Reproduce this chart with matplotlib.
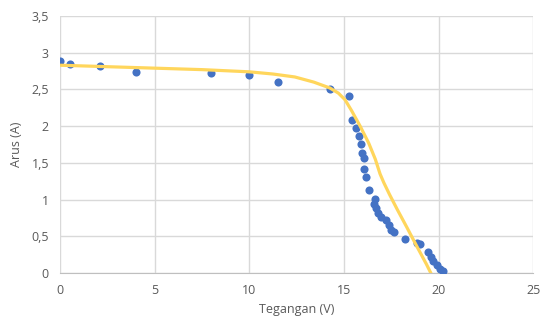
import matplotlib.pyplot as plt
from matplotlib.ticker import FuncFormatter, MultipleLocator

# Data pengukuran (Tegangan V, Arus A)
tegangan = [0.0, 0.5, 2.1, 4.0, 7.96, 10.0, 11.5, 14.25, 15.25, 15.4, 15.65,
            15.8, 15.9, 15.95, 16.05, 16.05, 16.15, 16.3, 16.65, 16.6, 16.7,
            16.8, 16.95, 17.2, 17.35, 17.5, 17.65, 18.2, 18.85, 19.0, 19.45,
            19.6, 19.7, 19.9, 20.05, 20.25]
arus = [2.89, 2.84, 2.82, 2.74, 2.72, 2.70, 2.60, 2.51, 2.41, 2.09, 1.98,
        1.86, 1.76, 1.64, 1.56, 1.42, 1.31, 1.13, 1.01, 0.94, 0.88,
        0.82, 0.77, 0.72, 0.65, 0.59, 0.56, 0.46, 0.41, 0.39, 0.28,
        0.22, 0.17, 0.11, 0.06, 0.03]

# Kurva model (garis kuning)
v_model = [0.0, 2.5, 5.0, 7.5, 10.0, 11.25, 12.4, 13.4, 14.25, 14.7, 15.05,
           15.4, 15.85, 16.3, 16.65, 16.9, 17.1, 17.4, 17.8, 18.3, 18.85,
           19.35, 19.6]
i_model = [2.83, 2.81, 2.79, 2.77, 2.74, 2.71, 2.67, 2.60, 2.52, 2.45, 2.36,
           2.21, 2.00, 1.77, 1.55, 1.35, 1.23, 1.07, 0.87, 0.63, 0.36,
           0.12, -0.01]

fig = plt.figure(figsize=(5.41, 3.27), dpi=100, facecolor='white')
ax = fig.add_axes([0.111, 0.165, 0.875, 0.786])

ax.scatter(tegangan, arus, s=34, color='#4472C4', zorder=3, linewidths=0)
ax.plot(v_model, i_model, color='#FFD65C', lw=2.3, zorder=4,
        solid_capstyle='butt', solid_joinstyle='round')

ax.set_xlim(0, 25)
ax.set_ylim(0, 3.5)
ax.xaxis.set_major_locator(MultipleLocator(5))
ax.yaxis.set_major_locator(MultipleLocator(0.5))
koma = FuncFormatter(lambda v, p: ('%g' % v).replace('.', ','))
ax.xaxis.set_major_formatter(koma)
ax.yaxis.set_major_formatter(koma)

ax.grid(True, color='#D9D9D9', lw=1)
ax.set_axisbelow(True)
for s in ['top', 'right', 'left']:
    ax.spines[s].set_visible(False)
ax.spines['bottom'].set_color('#BFBFBF')
ax.tick_params(length=0, labelsize=9, colors='#595959', pad=8)

ax.set_xlabel('Tegangan (V)', fontsize=9, color='#595959', labelpad=4)
ax.set_ylabel('Arus (A)', fontsize=9, color='#595959', labelpad=6)
for t in ax.get_xticklabels() + ax.get_yticklabels():
    t.set_family('Open Sans')
ax.xaxis.label.set_family('Open Sans')
ax.yaxis.label.set_family('Open Sans')

plt.savefig('out.png', dpi=100)
